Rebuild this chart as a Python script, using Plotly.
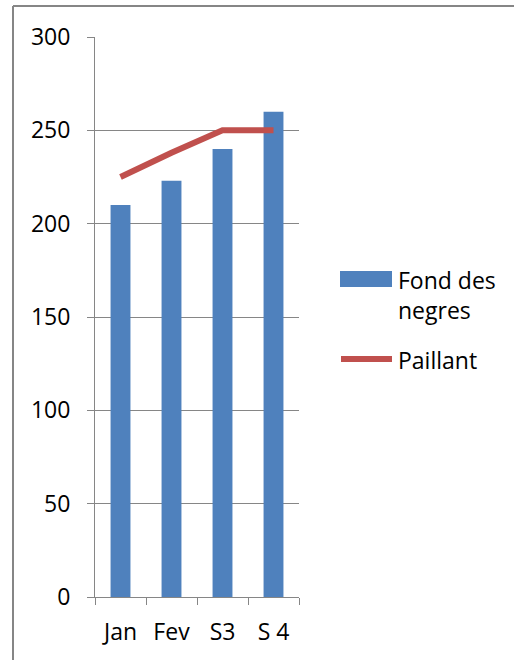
import plotly.graph_objects as go

categories = ["Jan", "Fev", "S3", "S 4"]
fond_des_negres = [210, 223, 240, 260]
paillant = [225, 238, 250, 250]
y_ticks = [0, 50, 100, 150, 200, 250, 300]

BLUE = "#4F81BD"
RED = "#C0504D"
GRAY = "#868686"
FONT = dict(family="Open Sans", size=23, color="#000000")

W, H = 514, 660
L, R, T, B = 95, 215, 37, 63
pw, ph = W - L - R, H - T - B

def px(x):
    return (x - L) / pw

def py(y):
    return 1 - (y - T) / ph

fig = go.Figure()
fig.add_trace(go.Bar(x=categories, y=fond_des_negres, name="Fond des negres",
                     marker=dict(color=BLUE, line=dict(width=0)), showlegend=False))
fig.add_trace(go.Scatter(x=categories, y=paillant, name="Paillant", mode="lines",
                         line=dict(color=RED, width=6), showlegend=False))

shapes = [
    # outer frame (left and top edges)
    dict(type="line", xref="paper", yref="paper", x0=px(13), x1=px(13), y0=py(700), y1=py(6),
         line=dict(color=GRAY, width=2)),
    dict(type="line", xref="paper", yref="paper", x0=px(13), x1=px(560), y0=py(6), y1=py(6),
         line=dict(color=GRAY, width=2)),
    # legend symbols
    dict(type="rect", xref="paper", yref="paper", x0=px(340), x1=px(392), y0=py(287), y1=py(271),
         fillcolor=BLUE, line=dict(width=0)),
    dict(type="line", xref="paper", yref="paper", x0=px(341), x1=px(392), y0=py(359), y1=py(359),
         line=dict(color=RED, width=6)),
]
annotations = [
    dict(text="Fond des<br>negres", xref="paper", yref="paper", x=px(396), y=py(294.5),
         xanchor="left", yanchor="middle", showarrow=False, align="left", font=FONT),
    dict(text="Paillant", xref="paper", yref="paper", x=px(396), y=py(359.5),
         xanchor="left", yanchor="middle", showarrow=False, align="left", font=FONT),
]

fig.update_layout(
    width=W, height=H,
    margin=dict(l=L, r=R, t=T, b=B, pad=0),
    paper_bgcolor="white", plot_bgcolor="white",
    bargap=0.61,
    showlegend=False,
    shapes=shapes,
    annotations=annotations,
    font=FONT,
)
fig.update_xaxes(
    type="category", tickson="boundaries", ticks="outside", ticklen=7, tickcolor=GRAY,
    tickwidth=1, showline=True, linecolor=GRAY, linewidth=1, showgrid=False,
    tickfont=FONT, ticklabelstandoff=14, range=[-0.5, 3.5],
)
fig.update_yaxes(
    range=[0, 300], tickvals=y_ticks, ticks="outside", ticklen=7, tickcolor=GRAY, tickwidth=1,
    showline=True, linecolor=GRAY, linewidth=1, showgrid=True, gridcolor=GRAY, gridwidth=1,
    zeroline=False, tickfont=FONT, ticklabelstandoff=12,
)

fig.write_html("out.html", config={"displayModeBar": False},
               post_script="document.body.style.margin='0';document.body.style.overflow='hidden';")
